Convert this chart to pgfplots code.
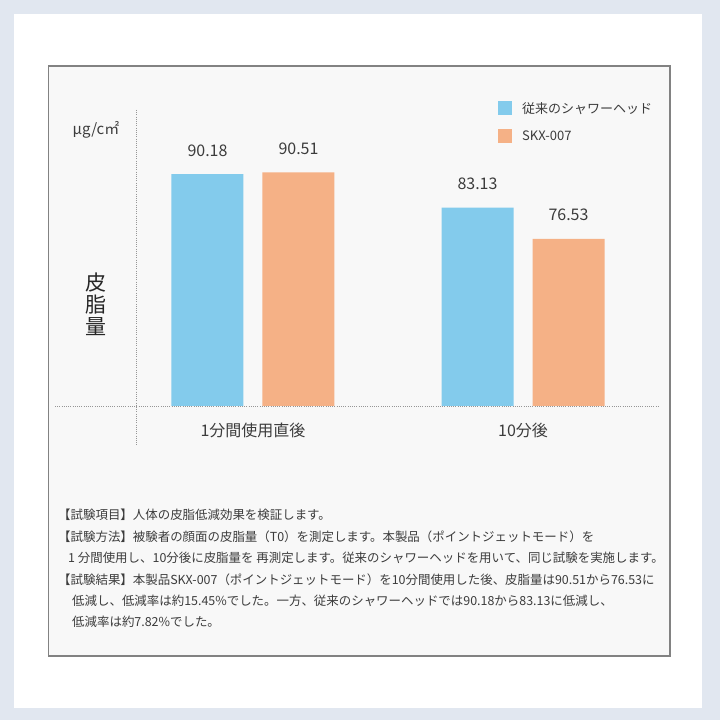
\documentclass[border=0pt]{standalone}
\usepackage{fontspec}
\setmainfont{Noto Sans CJK JP}
\usepackage{pgfplots}
\pgfplotsset{compat=1.18}
\definecolor{outerbg}{RGB}{225,231,240}
\definecolor{boxbg}{RGB}{248,248,248}
\definecolor{boxline}{RGB}{130,130,130}
\definecolor{barblue}{RGB}{131,203,236}
\definecolor{barorange}{RGB}{245,177,134}
\definecolor{txt}{RGB}{60,60,60}
\definecolor{dotgray}{RGB}{150,150,150}
\newcommand{\fs}[1]{\fontsize{#1}{#1}\selectfont}
\begin{document}
\begin{tikzpicture}[x=1pt,y=1pt]
\fill[outerbg] (0,0) rectangle (720,720);
\fill[white] (14,12) rectangle (702,706);
\filldraw[fill=boxbg, draw=boxline, line width=1.2pt] (48.5,64) rectangle (670,654);
\draw[dotgray, line width=0.8pt, dash pattern=on 1pt off 1.2pt] (55,314) -- (658,314);
\draw[dotgray, line width=0.8pt, dash pattern=on 1pt off 1.2pt] (136,610) -- (136,275);
\begin{axis}[
  at={(55pt,314pt)}, anchor=south west,
  scale only axis, width=603pt, height=296pt,
  xmin=-0.7333, xmax=1.5, ymin=41.35, ymax=103.67,
  clip=false,
  axis line style={draw=none}, tick style={draw=none},
  ytick=\empty,
  xtick={0,1}, xticklabels={1分間使用直後,10分後},
  xticklabel style={font=\fs{16}, text=txt, anchor=base, yshift=-26pt},
  ybar=19pt, bar width=72pt,
  nodes near coords={\pgfmathprintnumber[fixed,fixed zerofill,precision=2,assume math mode=true]{\pgfplotspointmeta}},
  every node near coord/.append style={font=\fs{16}, text=txt, anchor=base, yshift=18pt},
  legend style={at={(rel axis cs:0.7347,1.034)}, anchor=north west, draw=none, fill=none,
    inner sep=0pt, row sep=12pt, font=\fs{13}, text=txt,
    /tikz/every odd column/.append style={column sep=8pt}},
  legend cell align=left,
  legend image code/.code={\fill[#1,draw=none] (0pt,-7pt) rectangle (14pt,7pt);},
]
\addplot[fill=barblue, draw=none] coordinates {(0,90.18) (1,83.13)};
\addlegendentry{従来のシャワーヘッド}
\addplot[fill=barorange, draw=none] coordinates {(0,90.51) (1,76.53)};
\addlegendentry{SKX-007}
\end{axis}
\node[font=\fs{15}, text=txt] at (96,590) {μg/c㎡};
\node[font=\fs{21}, text=black!85, align=center, inner sep=0pt] at (96,416) {皮\\[1pt]脂\\[1pt]量};
\begin{scope}[every node/.style={font=\fs{12.45}, text=txt, anchor=base west, inner sep=0pt}]
\node at (58,200) {【試験項目】人体の皮脂低減効果を検証します。};
\node at (58,178) {【試験方法】被験者の顔面の皮脂量（T0）を測定します。本製品（ポイントジェットモード）を};
\node at (68,157) {1 分間使用し、10分後に皮脂量を 再測定します。従来のシャワーヘッドを用いて、同じ試験を実施します。};
\node at (58,135) {【試験結果】本製品SKX-007（ポイントジェットモード）を10分間使用した後、皮脂量は90.51から76.53に};
\node at (72,114) {低減し、低減率は約15.45\%でした。一方、従来のシャワーヘッドでは90.18から83.13に低減し、};
\node at (72,93) {低減率は約7.82\%でした。};
\end{scope}
\end{tikzpicture}
\end{document}
